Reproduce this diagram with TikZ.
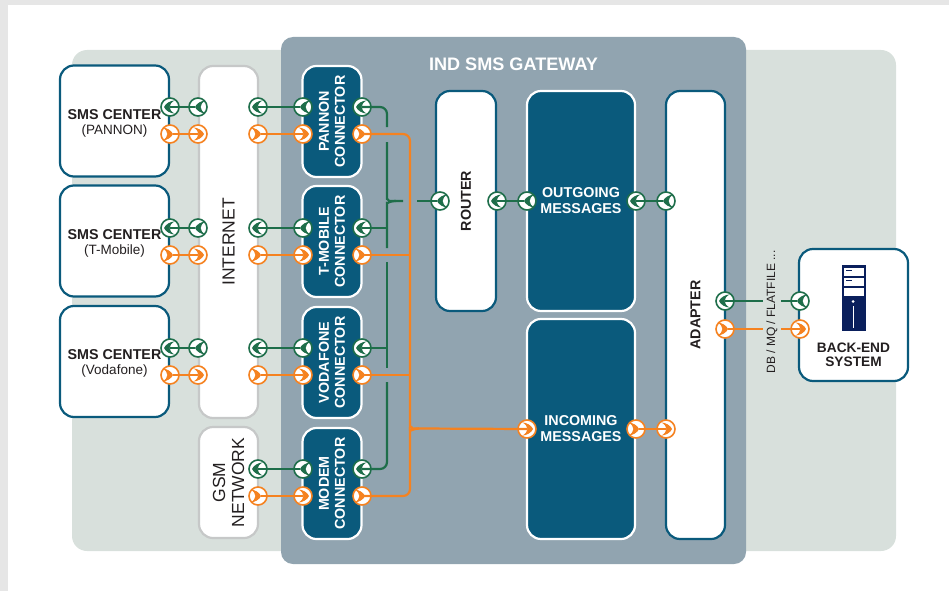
\documentclass[tikz,border=0pt]{standalone}
\usepackage{fontspec}
\setmainfont{Liberation Sans}
\definecolor{pagegrey}{HTML}{E6E6E6}
\definecolor{panel}{HTML}{D8E0DC}
\definecolor{gateway}{HTML}{91A4B0}
\definecolor{petrol}{HTML}{0A5A7C}
\definecolor{lightborder}{HTML}{C6C8C8}
\definecolor{linkgreen}{HTML}{1E6E4A}
\definecolor{linkorange}{HTML}{F58220}
\definecolor{inktext}{HTML}{231F20}
\definecolor{navy}{HTML}{0A1F5C}
\tikzset{
	boxtext/.style={font=\fontsize{14.3}{16}\selectfont\bfseries,align=center,inner sep=0pt},
	whitebox/.style={boxtext,draw=petrol,fill=white,text=inktext,line width=2.2pt,rounded corners=14pt},
	darkbox/.style={boxtext,draw=white,fill=petrol,text=white,line width=2.2pt,rounded corners=14pt},
	greybox/.style={draw=lightborder,fill=white,text=inktext,line width=2.2pt,rounded corners=14pt,align=center,inner sep=0pt,font=\fontsize{17.5}{19}\selectfont},
	port/.style n args={3}{circle,draw=#1,fill=white,line width=1.6pt,minimum size=18pt,inner sep=0pt,
		path picture={\fill[#1,shift={(path picture bounding box.center)}]
			({#3},0) .. controls ({#3-1.5*#2},-3.5) and ({#3-6*#2},-6.2) .. ({#3-10.5*#2},-6.6)
			.. controls ({#3-4*#2},-2.5) and ({#3-4*#2},2.5) .. ({#3-10.5*#2},6.6)
			.. controls ({#3-6*#2},6.2) and ({#3-1.5*#2},3.5) .. ({#3},0) -- cycle;}},
	greensrc/.style={port={linkgreen}{-1}{-3}},
	greendst/.style={port={linkgreen}{-1}{-6}},
	orangesrc/.style={port={linkorange}{1}{3}},
	orangedst/.style={port={linkorange}{1}{6}},
	greenlink/.style={draw=linkgreen,line width=2.2pt,rounded corners=7pt},
	orangelink/.style={draw=linkorange,line width=2.2pt,rounded corners=7pt}
}
\begin{document}
\begin{tikzpicture}[x=1pt,y=-1pt]
	\useasboundingbox (0,0) rectangle (949,591);
	\fill [pagegrey] (0,0) rectangle (949,5);
	\fill [pagegrey] (0,0) rectangle (8,591);
	\fill [panel,rounded corners=15pt] (72,50) rectangle (896,551);
	\fill [gateway,rounded corners=12pt] (281,37) rectangle (746,564);
	\node [font=\fontsize{18.1}{19}\selectfont\bfseries,text=white,inner sep=0pt] (title) at (513.5,64) {IND SMS GATEWAY};

	% left column
	\node [whitebox,minimum width=109pt,minimum height=111pt] (smsa) at (114.5,121) {\rule{0pt}{14.3pt}SMS CENTER\\[-1pt]{\fontsize{13.5}{15}\selectfont\mdseries (PANNON)}};
	\node [whitebox,minimum width=109pt,minimum height=111pt] (smsb) at (114.5,241) {\rule{0pt}{14.3pt}SMS CENTER\\[-1pt]{\fontsize{13.5}{15}\selectfont\mdseries (T-Mobile)}};
	\node [whitebox,minimum width=109pt,minimum height=111pt] (smsc) at (114.5,361.5) {\rule{0pt}{14.3pt}SMS CENTER\\[-1pt]{\fontsize{13.5}{15}\selectfont\mdseries (Vodafone)}};
	\node [greybox,rotate=90,minimum width=352pt,minimum height=59pt] (inet) at (228.5,242) {INTERNET};
	\node [greybox,rotate=90,minimum width=111pt,minimum height=59pt] (gsm) at (228.5,482.5) {GSM\\NETWORK};

	% connectors
	\node [darkbox,rotate=90,minimum width=111pt,minimum height=59pt] (cona) at (332,121.5) {PANNON\\CONNECTOR};
	\node [darkbox,rotate=90,minimum width=111pt,minimum height=59pt] (conb) at (332,241.5) {T-MOBILE\\CONNECTOR};
	\node [darkbox,rotate=90,minimum width=111pt,minimum height=59pt] (conc) at (332,362.5) {VODAFONE\\CONNECTOR};
	\node [darkbox,rotate=90,minimum width=111pt,minimum height=59pt] (cond) at (332,483.5) {MODEM\\CONNECTOR};

	% gateway core
	\node [whitebox,rotate=90,minimum width=220pt,minimum height=60pt] (router) at (466,201) {ROUTER};
	\node [darkbox,minimum width=108pt,minimum height=220pt] (outgoing) at (581,201) {OUTGOING\\MESSAGES};
	\node [darkbox,minimum width=108pt,minimum height=220pt] (incoming) at (581,429) {INCOMING\\MESSAGES};
	\node [whitebox,rotate=90,minimum width=448pt,minimum height=59pt] (adapter) at (695.5,315) {ADAPTER};
	\node [whitebox,minimum width=109pt,minimum height=132pt] (backend) at (853.5,315) {};
	\node [font=\fontsize{13.7}{14}\selectfont\bfseries,text=inktext,align=center,inner sep=0pt] (backendtext) at (853.5,355) {BACK-END\\SYSTEM};

	% server
	\fill [navy] (842,265) rectangle (866,331);
	\fill [white] (844,268) rectangle (864,276);
	\fill [white] (844,278) rectangle (864,286);
	\fill [white] (844,288) rectangle (864,296);
	\fill [navy] (846,270) rectangle (852,271);
	\fill [navy] (846,280) rectangle (852,281);
	\fill [white] (853,301.5) circle (1.5);
	\draw [white,line width=0.5pt] (853,306) -- (853,328);

	% ports
	\node [greendst] (smsag) at (170,107) {};
	\node [orangesrc] (smsao) at (170,134) {};
	\node [greendst] (smsbg) at (170,228) {};
	\node [orangesrc] (smsbo) at (170,255) {};
	\node [greendst] (smscg) at (170,348) {};
	\node [orangesrc] (smsco) at (170,375) {};
	\node [greensrc] (inetag) at (198,107) {};
	\node [orangedst] (inetao) at (198,134) {};
	\node [greensrc] (inetbg) at (198,228) {};
	\node [orangedst] (inetbo) at (198,255) {};
	\node [greensrc] (inetcg) at (198,348) {};
	\node [orangedst] (inetco) at (198,375) {};
	\node [greendst] (inetdg) at (258,107) {};
	\node [orangesrc] (inetdo) at (258,134) {};
	\node [greendst] (ineteg) at (258,228) {};
	\node [orangesrc] (inepo) at (258,255) {};
	\node [greendst] (inetfg) at (258,348) {};
	\node [orangesrc] (inetfo) at (258,375) {};
	\node [greendst] (gsmg) at (258,469) {};
	\node [orangesrc] (gsmo) at (258,496) {};
	\node [greensrc] (conalg) at (303,107) {};
	\node [orangedst] (conalo) at (303,134) {};
	\node [greensrc] (conblg) at (303,228) {};
	\node [orangedst] (conblo) at (303,255) {};
	\node [greensrc] (conclg) at (303,348) {};
	\node [orangedst] (conclo) at (303,375) {};
	\node [greensrc] (condlg) at (303,469) {};
	\node [orangedst] (condlo) at (303,496) {};
	\node [greendst] (conarg) at (362,107) {};
	\node [orangesrc] (conaro) at (362,134) {};
	\node [greendst] (conbrg) at (362,228) {};
	\node [orangesrc] (conbro) at (362,255) {};
	\node [greendst] (concrg) at (362,348) {};
	\node [orangesrc] (concro) at (362,375) {};
	\node [greendst] (condrg) at (362,469) {};
	\node [orangesrc] (condro) at (362,496) {};
	\node [greensrc] (routerl) at (440,201) {};
	\node [greendst] (routerr) at (497,201) {};
	\node [greensrc] (outl) at (527,201) {};
	\node [greendst] (outr) at (636,201) {};
	\node [orangedst] (incl) at (527,429) {};
	\node [orangesrc] (incr) at (636,429) {};
	\node [greensrc] (adaptlg) at (666,201) {};
	\node [orangedst] (adaptlo) at (666,429) {};
	\node [greendst] (adaptrg) at (725,301) {};
	\node [orangesrc] (adaptro) at (725,329) {};
	\node [greensrc] (backg) at (800,301) {};
	\node [orangedst] (backo) at (800,329) {};

	% bus points
	\coordinate (busa) at (387,127);
	\coordinate (busb) at (387,142);
	\coordinate (busc) at (387,248);
	\coordinate (busd) at (387,262);
	\coordinate (buse) at (387,368);
	\coordinate (busf) at (387,382);
	\coordinate (bracea) at (387,192);
	\coordinate (braceb) at (387,210);
	\coordinate (bracec) at (396,201);
	\coordinate (braced) at (403,201);
	\coordinate (bracee) at (417,201);
	\coordinate (joina) at (410,420);
	\coordinate (joinb) at (410,437);
	\coordinate (joinc) at (419,428.5);

	% green links
	\draw [greenlink,shorten <=3pt] (inetag.center) -- (smsag.center);
	\draw [greenlink,shorten <=3pt] (inetbg.center) -- (smsbg.center);
	\draw [greenlink,shorten <=3pt] (inetcg.center) -- (smscg.center);
	\draw [greenlink,shorten <=3pt] (conalg.center) -- (inetdg.center);
	\draw [greenlink,shorten <=3pt] (conblg.center) -- (ineteg.center);
	\draw [greenlink,shorten <=3pt] (conclg.center) -- (inetfg.center);
	\draw [greenlink,shorten <=3pt] (condlg.center) -- (gsmg.center);
	\draw [greenlink] (conarg.center) -| (busa);
	\draw [greenlink] (busb) -- (bracea) .. controls (387,198) and (389,201) .. (bracec) -- (braced);
	\draw [greenlink] (busc) -- (braceb) .. controls (387,204) and (389,201) .. (bracec);
	\draw [greenlink] (conbrg.center) -- (conbrg.center -| busc);
	\draw [greenlink] (busd) -- (buse);
	\draw [greenlink] (concrg.center) -- (concrg.center -| buse);
	\draw [greenlink] (condrg.center) -| (busf);
	\draw [greenlink,shorten <=3pt] (routerl.center) -- (bracee);
	\draw [greenlink,shorten <=3pt] (outl.center) -- (routerr.center);
	\draw [greenlink,shorten <=3pt] (adaptlg.center) -- (outr.center);
	\draw [greenlink,shorten <=3pt] (backg.center) -- (adaptrg.center);

	% orange links
	\draw [orangelink,shorten <=3pt] (smsao.center) -- (inetao.center);
	\draw [orangelink,shorten <=3pt] (smsbo.center) -- (inetbo.center);
	\draw [orangelink,shorten <=3pt] (smsco.center) -- (inetco.center);
	\draw [orangelink,shorten <=3pt] (inetdo.center) -- (conalo.center);
	\draw [orangelink,shorten <=3pt] (inepo.center) -- (conblo.center);
	\draw [orangelink,shorten <=3pt] (inetfo.center) -- (conclo.center);
	\draw [orangelink,shorten <=3pt] (gsmo.center) -- (condlo.center);
	\draw [orangelink] (conaro.center) -| (joina) .. controls (410,425) and (413,428.5) .. (joinc) -- (incl.center);
	\draw [orangelink] (condro.center) -| (joinb) .. controls (410,432) and (413,428.5) .. (joinc);
	\draw [orangelink] (conbro.center) -- (conbro.center -| joina);
	\draw [orangelink] (concro.center) -- (concro.center -| joina);
	\draw [orangelink,shorten <=3pt] (incr.center) -- (adaptlo.center);
	\draw [orangelink,shorten <=3pt] (adaptro.center) -- (backo.center);

	% label over the two links
	\node [fill=panel,text=inktext,rotate=90,font=\fontsize{12}{14}\selectfont,inner sep=0pt,minimum height=18pt] (dblabel) at (772,312) {DB / MQ / FLATFILE ...};
\end{tikzpicture}
\end{document}
